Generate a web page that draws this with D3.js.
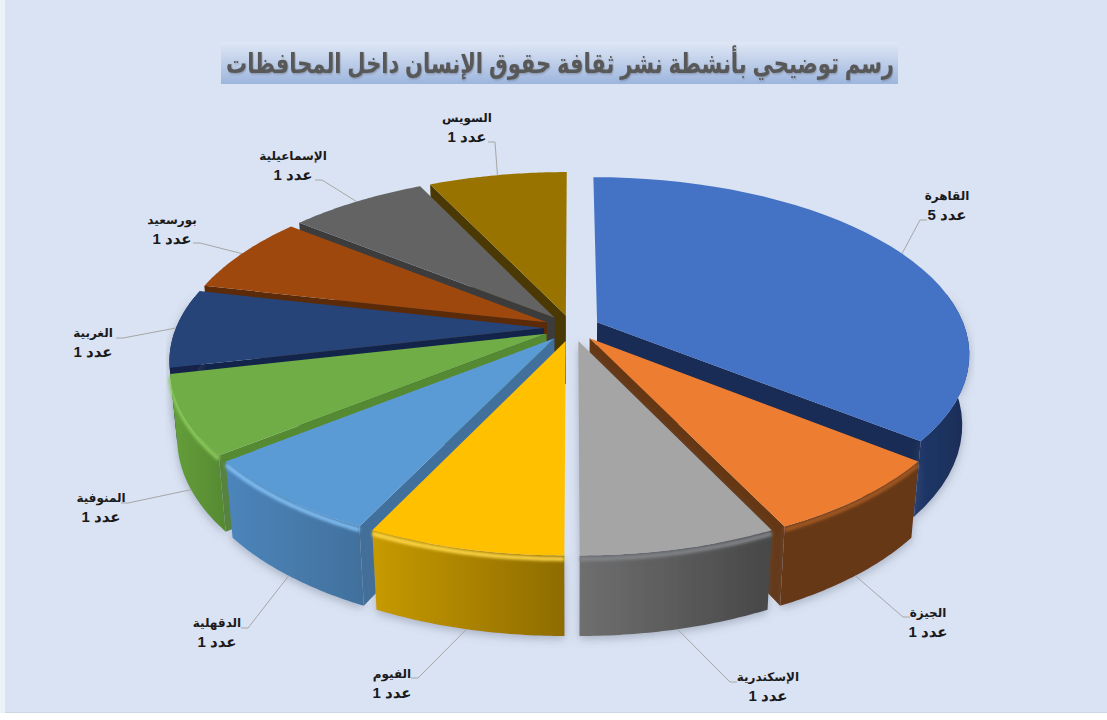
<!DOCTYPE html>
<html lang="ar">
<head>
<meta charset="utf-8">
<title>رسم توضيحي</title>
<script src="https://cdn.jsdelivr.net/npm/d3@7"></script>
<style>
  html, body { margin: 0; padding: 0; background: #fff; }
  svg { display: block; }
  text { font-family: "Liberation Sans", "DejaVu Sans", sans-serif; font-weight: bold; }
</style>
</head>
<body>
<svg id="chart" width="1107" height="720"></svg>
<script>
const chartTitle = "رسم توضيحي بأنشطة نشر ثقافة حقوق الإنسان داخل المحافظات";
const countWord = "عدد";
const governorates = ["القاهرة", "الجيزة", "الإسكندرية", "الفيوم", "الدقهلية", "المنوفية", "الغربية", "بورسعيد", "الإسماعيلية", "السويس"];
const counts = [5, 1, 1, 1, 1, 1, 1, 1, 1, 1];

const topColors = ["#4472c4", "#ed7d31", "#a5a5a5", "#ffc000", "#5b9bd5", "#70ad47", "#264478", "#9e480e", "#636363", "#997300"];
const wallLeft = ["#21396b", "#663713", "#6f6f6f", "#c79a06", "#4c85bb", "#659f3b", "#13244a", "#5b2a08", "#3c3c3c", "#4a3905"];
const wallRight = ["#182c55", "#663713", "#474747", "#8e6c00", "#41709c", "#568a32", "#13244a", "#5b2a08", "#3c3c3c", "#4a3905"];
const rimLight = [null, "#a65a24", "#8c8c8c", "#ffd84a", "#82c0f5", "#8ccb5c", null, null, null, null];

// leader elbow and label centre, placed by hand like in the original
const elbows = [[920, 220, 1], [903, 617, 1], [730, 682, 1], [418, 678, -1], [248, 628, -1], [128, 503, -1], [123, 338, -1], [200, 243, -1], [322, 180, -1], [495, 142, -1]];
const labelSpots = [[947, 195], [928, 612], [768, 676], [392, 673], [217, 622], [101, 497], [93, 332], [172, 219], [293, 155], [467, 117]];

const width = 1107, height = 720;
const cx = 572, cy = 328;
const radius = 368, explode = 28, depth = 71;
const tiltY = 0.468, perspY = 0.000472, perspZ = 0.00025;

const svg = d3.select("#chart");
const defs = svg.append("defs");

// plane coords -> screen, z goes down from the top face
function project(x, y, z) {
    const w = 1 / (1 - perspY * y + perspZ * z);
    return [cx + x * w, cy + (tiltY * y + z) * w];
}

const pie = d3.pie().value(d => d).sort(null);
const slices = pie(counts).map((d, i) => {
    const mid = (d.startAngle + d.endAngle) / 2;
    return {
        i,
        start: d.startAngle,
        end: d.endAngle,
        mid,
        ox: Math.sin(mid) * explode,
        oy: -Math.cos(mid) * explode
    };
});

function rimPoint(s, a, z) {
    return project(s.ox + radius * Math.sin(a), s.oy - radius * Math.cos(a), z);
}

function rimAngles(s) {
    return d3.range(0, 41).map(k => s.start + (s.end - s.start) * k / 40);
}

const line = d3.line();
const closed = pts => line(pts) + "Z";

// background, the picture has a pale strip on the left and white below
svg.append("rect").attr("width", 6).attr("height", 713).attr("fill", "#edf1f8");
svg.append("rect").attr("x", 5).attr("width", width - 5).attr("height", 713).attr("fill", "#dae3f3");
svg.append("rect").attr("x", 5).attr("y", 712).attr("width", width - 5).attr("height", 1).attr("fill", "#cdd5e5");

const bg = defs.append("linearGradient").attr("id", "titleFill").attr("x1", 0).attr("y1", 0).attr("x2", 0).attr("y2", 1);
bg.append("stop").attr("offset", "0%").attr("stop-color", "#dfe7f5");
bg.append("stop").attr("offset", "100%").attr("stop-color", "#9db5dd");

defs.append("filter").attr("id", "soft").attr("x", "-10%").attr("y", "-20%").attr("width", "120%").attr("height", "150%")
    .append("feDropShadow").attr("dx", 0).attr("dy", 3).attr("stdDeviation", 5)
    .attr("flood-color", "#5a6478").attr("flood-opacity", 0.4);
defs.append("filter").attr("id", "glow").attr("x", "-10%").attr("y", "-50%").attr("width", "120%").attr("height", "200%")
    .append("feGaussianBlur").attr("stdDeviation", 1.8);
defs.append("filter").attr("id", "titleShadow").attr("x", "-5%").attr("y", "-20%").attr("width", "110%").attr("height", "140%")
    .append("feDropShadow").attr("dx", 1).attr("dy", 1).attr("stdDeviation", 0.8)
    .attr("flood-color", "#333").attr("flood-opacity", 0.35);

// title, squeezed to the width of its box since the Arabic face here runs wide
svg.append("rect").attr("x", 221).attr("y", 42).attr("width", 677).attr("height", 42).attr("fill", "url(#titleFill)");
const titleText = svg.append("text")
    .attr("text-anchor", "middle")
    .attr("direction", "rtl")
    .attr("font-size", 28)
    .attr("fill", "#595959")
    .attr("filter", "url(#titleShadow)")
    .text(chartTitle);
const titleScale = 668 / titleText.node().getComputedTextLength();
titleText.attr("transform", `translate(560,73) scale(${titleScale},1)`);

// back slices first
const order = slices.slice().sort((a, b) => Math.cos(b.mid) - Math.cos(a.mid));
const pieLayer = svg.append("g");

order.forEach(s => {
    const g = pieLayer.append("g");
    const apexTop = project(s.ox, s.oy, 0);
    const apexBottom = project(s.ox, s.oy, depth);

    // only the radial face turned to the viewer
    if (Math.sin(s.start) < -0.01) {
        g.append("path")
            .attr("d", closed([apexTop, rimPoint(s, s.start, 0), rimPoint(s, s.start, depth), apexBottom]))
            .attr("fill", wallRight[s.i]);
    }
    if (Math.sin(s.end) > 0.01) {
        g.append("path")
            .attr("d", closed([apexTop, rimPoint(s, s.end, 0), rimPoint(s, s.end, depth), apexBottom]))
            .attr("fill", wallRight[s.i]);
    }

    // outer wall, front part of the rim only
    const wallAngles = rimAngles(s).filter(a => Math.cos(a) < 0.2);
    if (wallAngles.length > 1) {
        const top = wallAngles.map(a => rimPoint(s, a, 0));
        const bottom = wallAngles.map(a => rimPoint(s, a, depth));
        const xs = top.concat(bottom).map(p => p[0]);

        const grad = defs.append("linearGradient")
            .attr("id", "wall" + s.i)
            .attr("gradientUnits", "userSpaceOnUse")
            .attr("x1", d3.min(xs)).attr("y1", 0)
            .attr("x2", d3.max(xs)).attr("y2", 0);
        grad.append("stop").attr("offset", "0%").attr("stop-color", wallLeft[s.i]);
        grad.append("stop").attr("offset", "100%").attr("stop-color", wallRight[s.i]);

        g.append("path")
            .attr("d", closed(top.concat(bottom.slice().reverse())))
            .attr("fill", "url(#wall" + s.i + ")")
            .attr("filter", "url(#soft)");

        if (rimLight[s.i]) {
            g.append("path")
                .attr("d", line(wallAngles.map(a => rimPoint(s, a, 3))))
                .attr("fill", "none")
                .attr("stroke", rimLight[s.i])
                .attr("stroke-width", 4)
                .attr("filter", "url(#glow)");
        }
    }

    // top face, the grey one throws a shadow into the gap by the yellow one
    g.append("path")
        .attr("d", closed([apexTop].concat(rimAngles(s).map(a => rimPoint(s, a, 0)))))
        .attr("fill", topColors[s.i])
        .attr("filter", s.i === 2 ? "url(#soft)" : null);
});

// leaders and labels
const labelLayer = svg.append("g");
slices.forEach(s => {
    const front = Math.cos(s.mid) < -0.2;
    const anchor = rimPoint(s, s.mid, front ? depth : 0);
    const elbow = elbows[s.i];
    const spot = labelSpots[s.i];

    labelLayer.append("path")
        .attr("d", line([anchor, [elbow[0], elbow[1]], [elbow[0] + elbow[2] * 7, elbow[1]]]))
        .attr("fill", "none")
        .attr("stroke", "#a6a6a6")
        .attr("stroke-width", 1);

    labelLayer.append("text")
        .attr("x", spot[0]).attr("y", spot[1] + 5)
        .attr("text-anchor", "middle")
        .attr("direction", "rtl")
        .attr("font-size", 12)
        .attr("fill", "#1a1a1a")
        .text(governorates[s.i]);

    labelLayer.append("text")
        .attr("x", spot[0]).attr("y", spot[1] + 25)
        .attr("text-anchor", "middle")
        .attr("direction", "rtl")
        .attr("font-size", 15)
        .attr("fill", "#1a1a1a")
        .text(countWord + " " + counts[s.i]);
});
</script>
</body>
</html>
